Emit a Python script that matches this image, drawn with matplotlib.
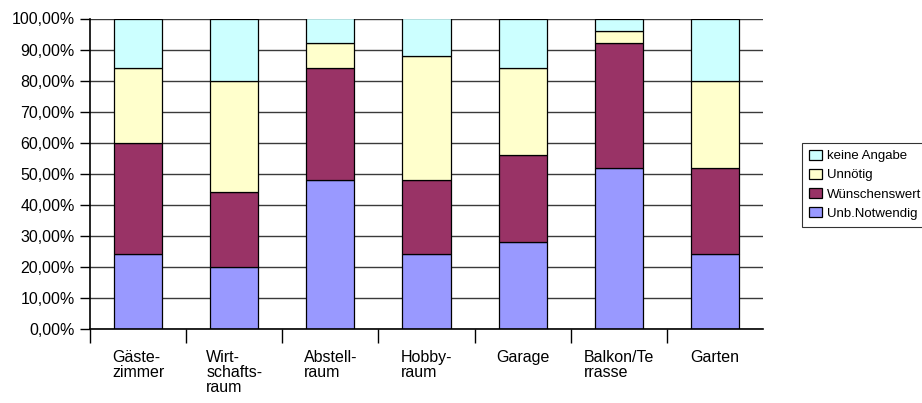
import numpy as np
import matplotlib.pyplot as plt
from matplotlib.ticker import FuncFormatter, FixedLocator

plt.rcParams['font.family'] = ['Liberation Sans', 'DejaVu Sans']

# Räume und Antwortanteile in Prozent
raeume = ["Gäste-\nzimmer", "Wirt-\nschafts-\nraum", "Abstell-\nraum", "Hobby-\nraum",
          "Garage", "Balkon/Te\nrrasse", "Garten"]
unb_notwendig = [24, 20, 48, 24, 28, 52, 24]
wuenschenswert = [36, 24, 36, 24, 28, 40, 28]
unnoetig = [24, 36, 8, 40, 28, 4, 28]
keine_angabe = [16, 20, 8, 12, 16, 4, 20]

serien = ["Unb.Notwendig", "Wünschenswert", "Unnötig", "keine Angabe"]
farben = ["#9999FF", "#993366", "#FFFFCC", "#CCFFFF"]

fig = plt.figure(figsize=(9.22, 4.03), dpi=100)
ax = fig.add_axes([90 / 922, 1 - 329 / 403, (763 - 90) / 922, (329 - 18.5) / 403])

x = np.arange(len(raeume))
unten = np.zeros(len(raeume))
handles = []
for werte, name, farbe in zip([unb_notwendig, wuenschenswert, unnoetig, keine_angabe], serien, farben):
    werte = np.array(werte, dtype=float)
    b = ax.bar(x, werte, 0.5, bottom=unten, color=farbe, edgecolor="black",
               linewidth=0.9, label=name, zorder=3)
    handles.append(b)
    unten += werte

ax.set_xlim(-0.5, len(raeume) - 0.5)
ax.set_ylim(0, 100)

# y-Achse mit Komma als Dezimaltrennzeichen
ax.set_yticks(np.arange(0, 101, 10))
ax.yaxis.set_major_formatter(FuncFormatter(lambda v, p: f"{v:.2f}".replace(".", ",") + "%"))
ax.yaxis.grid(True, color="#3a3a3a", linewidth=1.0, zorder=1)
ax.tick_params(axis="y", direction="out", length=7, width=1, labelsize=11.5, pad=4)

# Kategorien mittig, Teilstriche zwischen den Gruppen (ohne rechtes Ende)
ax.set_xticks(x)
ax.set_xticklabels(raeume, ha="center", multialignment="left", linespacing=1.0)
ax.xaxis.set_minor_locator(FixedLocator(np.arange(-0.5, len(raeume) - 1, 1.0)))
ax.tick_params(axis="x", which="major", length=0, labelsize=11.5, pad=15)
ax.tick_params(axis="x", which="minor", direction="out", length=10, width=1)

for s in ["top", "right"]:
    ax.spines[s].set_visible(False)
for s in ["left", "bottom"]:
    ax.spines[s].set_linewidth(1.2)
    ax.spines[s].set_zorder(4)

leg = fig.legend(handles[::-1], serien[::-1], loc="upper left",
                 bbox_to_anchor=(802 / 922, 1 - 143 / 403), fontsize=9.5,
                 frameon=True, fancybox=False, handlelength=1.0, handleheight=0.8,
                 handletextpad=0.4, labelspacing=0.5, borderpad=0.5,
                 borderaxespad=0)
leg.get_frame().set_edgecolor("black")
leg.get_frame().set_linewidth(0.8)

fig.savefig("out.png", dpi=100)
